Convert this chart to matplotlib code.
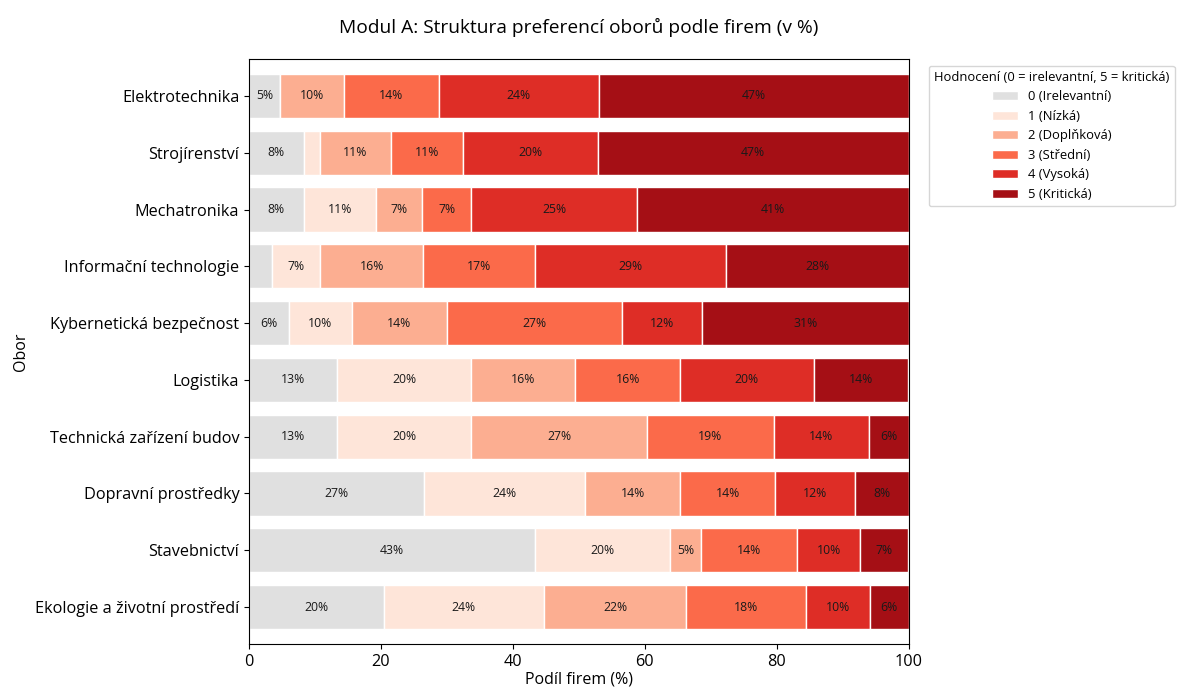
"""
Modul A: struktura preferencí oborů podle firem - skládaný pruhový graf.
"""

import numpy as np
import matplotlib
matplotlib.use("Agg")
import matplotlib.pyplot as plt

plt.rcParams['font.family'] = ['Open Sans', 'DejaVu Sans']

# obory (shora dolu)
obory = [
    "Elektrotechnika",
    "Strojírenství",
    "Mechatronika",
    "Informační technologie",
    "Kybernetická bezpečnost",
    "Logistika",
    "Technická zařízení budov",
    "Dopravní prostředky",
    "Stavebnictví",
    "Ekologie a životní prostředí",
]

# podíl firem (%) pro každé hodnocení 0..5
h0 = [4.7, 8.3, 8.3, 3.5, 6.0, 13.3, 13.3, 26.6, 43.4, 20.4]
h1 = [0.0, 2.4, 10.9, 7.3, 9.6, 20.4, 20.4, 24.3, 20.4, 24.3]
h2 = [9.7, 10.9, 7.1, 15.6, 14.4, 15.8, 26.6, 14.5, 4.8, 21.6]
h3 = [14.4, 10.9, 7.3, 17.0, 26.6, 15.8, 19.3, 14.4, 14.5, 18.1]
h4 = [24.2, 20.4, 25.3, 29.0, 12.1, 20.4, 14.4, 12.1, 9.6, 9.7]
h5 = [47.0, 47.1, 41.1, 27.6, 31.3, 14.3, 6.0, 8.1, 7.3, 5.9]

hodnoceni = ["0 (Irelevantní)", "1 (Nízká)", "2 (Doplňková)",
             "3 (Střední)", "4 (Vysoká)", "5 (Kritická)"]
barvy = ["#e0e0e0", "#fee5d9", "#fcae91", "#fb6a4a", "#de2d26", "#a50f15"]

data = np.array([h0, h1, h2, h3, h4, h5])

fig, ax = plt.subplots(figsize=(11.84, 6.89), dpi=100)
fig.subplots_adjust(left=249 / 1184, right=908.5 / 1184,
                    top=1 - 59 / 689, bottom=1 - 644 / 689)

y = np.arange(len(obory))
left = np.zeros(len(obory))
for i, (lab, col) in enumerate(zip(hodnoceni, barvy)):
    vals = data[i]
    bars = ax.barh(y, vals, left=left, height=0.78, color=col,
                   edgecolor="white", linewidth=1, label=lab)
    for b, v in zip(bars, vals):
        if v >= 4:
            ax.text(b.get_x() + b.get_width() / 2, b.get_y() + b.get_height() / 2,
                    f"{v:.0f}%", ha="center", va="center",
                    fontsize=8.8, color="#1a1a1a")
    left += vals

ax.set_yticks(y)
ax.set_yticklabels(obory, fontsize=11.7)
ax.set_ylim(len(obory) - 1 + 0.65, -0.65)
ax.set_xlim(0, 100)
ax.tick_params(axis="x", labelsize=11.7)
ax.set_xlabel("Podíl firem (%)", fontsize=11.5, labelpad=1.5)
ax.set_ylabel("Obor", fontsize=11.5)
ax.set_title("Modul A: Struktura preferencí oborů podle firem (v %)",
             fontsize=13.8, pad=19)

ax.legend(title="Hodnocení (0 = irelevantní, 5 = kritická)",
          bbox_to_anchor=(1.021, 1.0), loc="upper left",
          fontsize=9.4, title_fontsize=9.4, frameon=True)

fig.savefig("out.png", dpi=100)
